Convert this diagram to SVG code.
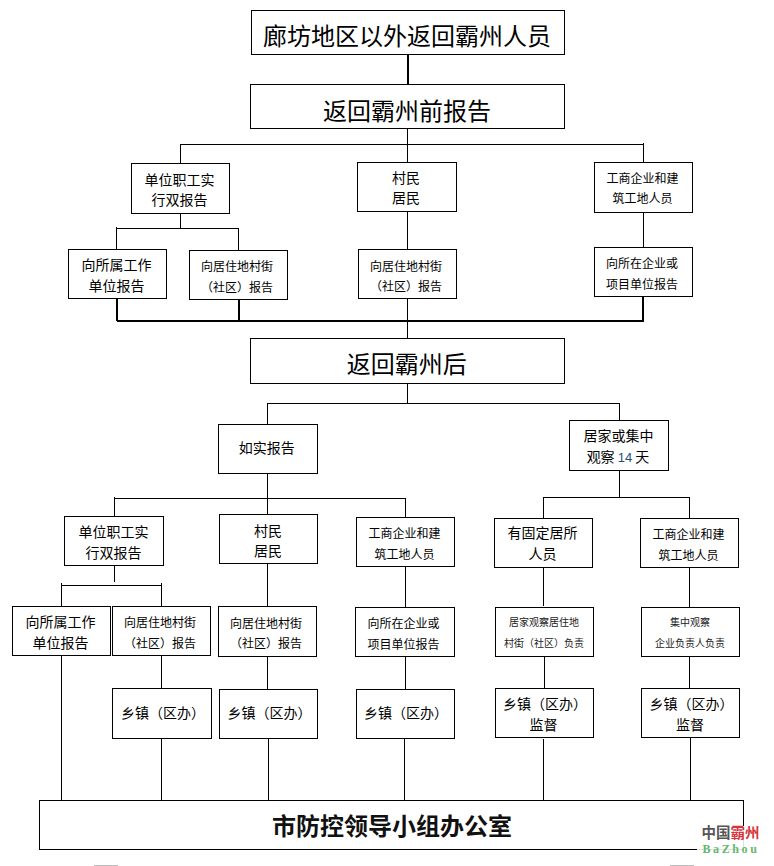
<svg xmlns="http://www.w3.org/2000/svg" width="774" height="866" viewBox="0 0 774 866">
<style>
  rect.box { fill: #fff; stroke: #000; stroke-width: 1; }
  .wire { fill: none; stroke: #000; stroke-width: 1; }
  .heavy { fill: none; stroke: #000; stroke-width: 2; }
  text { font-family: "Noto Sans CJK SC", "Liberation Sans", sans-serif; text-anchor: middle; fill: #000; }
  .t24 { font-size: 24px; font-weight: 400; }
  .t14 { font-size: 14px; font-weight: 400; }
  .t12 { font-size: 12px; font-weight: 400; }
  .t10 { font-size: 10px; font-weight: 400; fill: #222; }
  .office { font-size: 24px; font-weight: 700; fill: #111; }
  .num { font-family: "Liberation Sans", sans-serif; font-size: 13px; fill: #1f4e79; }
  .mark-cn { font-size: 14.5px; font-weight: 700; fill: #555; }
  .mark-red { fill: #d8343c; }
  .mark-en { font-family: "Liberation Serif", serif; font-size: 12px; font-weight: 700; letter-spacing: 2.6px; fill: #63b86c; }
</style>
<rect width="774" height="866" fill="#fff"/>
<g id="connectors">
  <path class="heavy" d="M408 54V84"/>
  <path class="wire" d="M407.5 128V162M180.5 144.5H643.5M180.5 144V163M643.5 143V163"/>
  <path class="wire" d="M180.5 213V228.5M116.5 228.5H238.5M116.5 227V249M238.5 228V250"/>
  <path class="wire" d="M407.5 211V249M643.5 212V247M407.5 298V338"/>
  <path class="heavy" d="M117 298V321M239 299V321M643 296V322M117 321H644"/>
  <path class="wire" d="M407.5 383V403M267.5 403.5H619.5M267.5 403V424M619.5 403V420"/>
  <path class="wire" d="M267.5 473V514M114.5 498.5H405.5M114.5 497V516M405.5 498V517"/>
  <path class="wire" d="M619.5 470V497M543.5 497.5H689.5M543.5 497V518M689.5 497V518"/>
  <path class="wire" d="M114.5 565V582M61.5 585.5H161.5M61.5 583V606M161.5 583V606"/>
  <path class="wire" d="M267.5 563V606M405.5 566V607M543.5 567V606M689.5 567V607"/>
  <path class="wire" d="M161.5 655V688M267.5 656V689M405.5 656V689M544.5 656V688M689.5 656V688"/>
  <path class="wire" d="M61.5 655V800M161.5 738V800M268.5 738V800M404.5 738V800M543.5 739V801M690.5 737V800"/>
</g>
<g id="n-origin"><rect class="box" x="251.5" y="10.5" width="313" height="44"/><text class="t24" x="407" y="45">廊坊地区以外返回霸州人员</text></g>
<g id="n-before"><rect class="box" x="250.5" y="84.5" width="314" height="44"/><text class="t24" x="407" y="119.5">返回霸州前报告</text></g>
<g id="n-staff-a"><rect class="box" x="131.5" y="163.5" width="98" height="50"/><text class="t14" x="179.5" y="184.5">单位职工实</text><text class="t14" x="179.5" y="205">行双报告</text></g>
<g id="n-resident-a"><rect class="box" x="357.5" y="162.5" width="99" height="49"/><text class="t14" x="406" y="183">村民</text><text class="t14" x="406" y="203">居民</text></g>
<g id="n-business-a"><rect class="box" x="594.5" y="162.5" width="98" height="50"/><text class="t12" x="642.5" y="183">工商企业和建</text><text class="t12" x="642.5" y="203">筑工地人员</text></g>
<g id="n-work-a"><rect class="box" x="68.5" y="249.5" width="98" height="49"/><text class="t14" x="116.5" y="270">向所属工作</text><text class="t14" x="116.5" y="291">单位报告</text></g>
<g id="n-home-a"><rect class="box" x="189.5" y="250.5" width="98" height="49"/><text class="t12" x="237" y="271">向居住地村街</text><text class="t12" x="237" y="291.5">（社区）报告</text></g>
<g id="n-home-b"><rect class="box" x="358.5" y="249.5" width="98" height="49"/><text class="t12" x="406" y="270.5">向居住地村街</text><text class="t12" x="406" y="290.5">（社区）报告</text></g>
<g id="n-company-a"><rect class="box" x="594.5" y="247.5" width="98" height="49"/><text class="t12" x="642" y="267.5">向所在企业或</text><text class="t12" x="642" y="288.5">项目单位报告</text></g>
<g id="n-after"><rect class="box" x="250.5" y="338.5" width="314" height="45"/><text class="t24" x="406.7" y="373">返回霸州后</text></g>
<g id="n-report"><rect class="box" x="218.5" y="424.5" width="99" height="49"/><text class="t14" x="266.7" y="453.3">如实报告</text></g>
<g id="n-observe"><rect class="box" x="569.5" y="420.5" width="99" height="50"/><text class="t14" x="618.5" y="441">居家或集中</text><text class="t14" x="618" y="462">观察 <tspan class="num">14</tspan> 天</text></g>
<g id="n-staff-b"><rect class="box" x="64.5" y="516.5" width="99" height="49"/><text class="t14" x="113.5" y="537">单位职工实</text><text class="t14" x="113.5" y="558">行双报告</text></g>
<g id="n-resident-b"><rect class="box" x="219.5" y="514.5" width="98" height="49"/><text class="t14" x="268" y="535.5">村民</text><text class="t14" x="268" y="556">居民</text></g>
<g id="n-business-b"><rect class="box" x="356.5" y="517.5" width="98" height="49"/><text class="t12" x="404.5" y="538">工商企业和建</text><text class="t12" x="404.5" y="558.5">筑工地人员</text></g>
<g id="n-fixed"><rect class="box" x="494.5" y="518.5" width="98" height="49"/><text class="t14" x="542.5" y="538">有固定居所</text><text class="t14" x="542.5" y="559">人员</text></g>
<g id="n-business-c"><rect class="box" x="640.5" y="518.5" width="98" height="49"/><text class="t12" x="688.5" y="538.5">工商企业和建</text><text class="t12" x="688.5" y="559.5">筑工地人员</text></g>
<g id="n-work-b"><rect class="box" x="12.5" y="606.5" width="98" height="49"/><text class="t14" x="60.5" y="627">向所属工作</text><text class="t14" x="60.5" y="647.5">单位报告</text></g>
<g id="n-home-c"><rect class="box" x="112.5" y="606.5" width="98" height="49"/><text class="t12" x="160" y="626.5">向居住地村街</text><text class="t12" x="160" y="647.5">（社区）报告</text></g>
<g id="n-home-d"><rect class="box" x="218.5" y="606.5" width="98" height="50"/><text class="t12" x="266" y="627.5">向居住地村街</text><text class="t12" x="266" y="648">（社区）报告</text></g>
<g id="n-company-b"><rect class="box" x="355.5" y="607.5" width="99" height="49"/><text class="t12" x="403.5" y="627.5">向所在企业或</text><text class="t12" x="403.5" y="648.5">项目单位报告</text></g>
<g id="n-home-duty"><rect class="box" x="495.5" y="607.5" width="98" height="49"/><text class="t10" x="544" y="626.3">居家观察居住地</text><text class="t10" x="544" y="647">村街（社区）负责</text></g>
<g id="n-site-duty"><rect class="box" x="641.5" y="607.5" width="98" height="49"/><text class="t10" x="690" y="626.3">集中观察</text><text class="t10" x="690" y="647">企业负责人负责</text></g>
<g id="n-town-a"><rect class="box" x="112.5" y="688.5" width="99" height="50"/><text class="t14" x="163" y="718">乡镇（区办）</text></g>
<g id="n-town-b"><rect class="box" x="219.5" y="689.5" width="98" height="49"/><text class="t14" x="269.5" y="718">乡镇（区办）</text></g>
<g id="n-town-c"><rect class="box" x="356.5" y="689.5" width="98" height="49"/><text class="t14" x="406" y="718">乡镇（区办）</text></g>
<g id="n-town-d"><rect class="box" x="495.5" y="688.5" width="98" height="49"/><text class="t14" x="545" y="709">乡镇（区办）</text><text class="t14" x="543.5" y="730">监督</text></g>
<g id="n-town-e"><rect class="box" x="641.5" y="688.5" width="98" height="49"/><text class="t14" x="691.5" y="709">乡镇（区办）</text><text class="t14" x="690" y="730">监督</text></g>
<g id="n-office"><rect class="box" x="39.5" y="800.5" width="704" height="49"/><text class="office" x="392" y="835">市防控领导小组办公室</text></g>
<g id="site-mark">
  <rect x="697" y="826" width="64" height="26" fill="#fff" opacity="0.88"/>
  <text class="mark-cn" x="730.5" y="838">中国<tspan class="mark-red">霸州</tspan></text>
  <text class="mark-en" x="731" y="853">BaZhou</text>
</g>
<g id="page-edge">
  <rect x="94" y="865" width="24" height="1" fill="#bbb"/>
  <rect x="670" y="865" width="24" height="1" fill="#bbb"/>
</g>
</svg>
